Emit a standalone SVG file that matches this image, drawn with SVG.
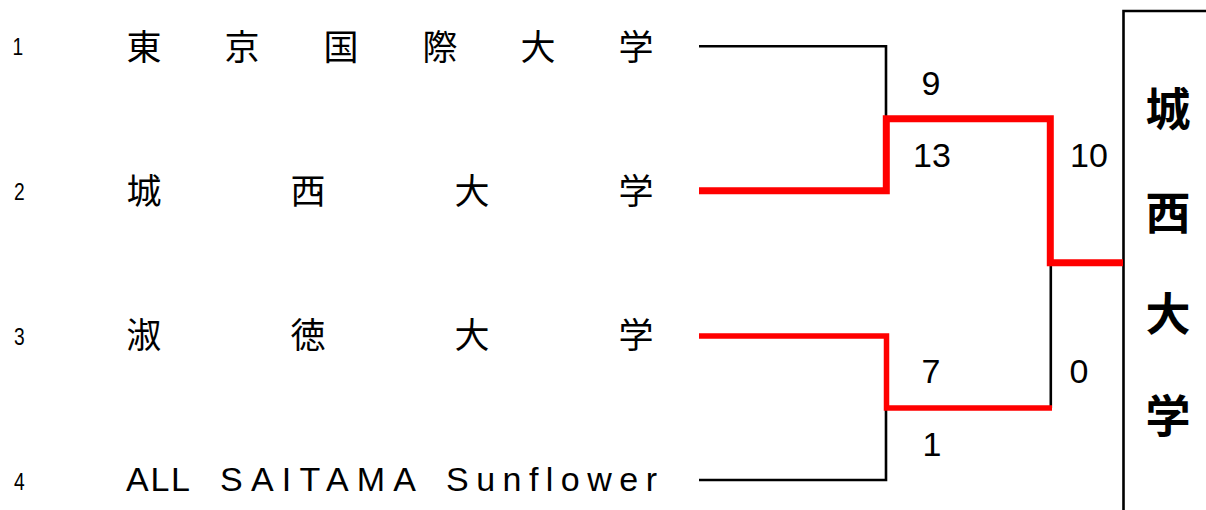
<svg xmlns="http://www.w3.org/2000/svg" width="1206" height="510" viewBox="0 0 1206 510">
<style>
.num{font-family:"Liberation Sans",Arial,sans-serif;font-size:24px;fill:#000}
.team{font-family:"Noto Sans CJK JP","Noto Sans CJK SC",sans-serif;font-size:35px;fill:#000}
.latin{font-family:"Liberation Sans",Arial,sans-serif;font-size:34px;fill:#000}
.score{font-family:"Liberation Sans",Arial,sans-serif;font-size:34px;fill:#000;text-anchor:middle}
.champ{font-family:"Noto Sans CJK JP","Noto Sans CJK SC",sans-serif;font-size:45px;font-weight:700;fill:#000;text-anchor:middle}
.blk{fill:none;stroke:#000;stroke-width:2.6}
.win{fill:none;stroke:#ff0000;stroke-width:7;stroke-linejoin:miter}
.win2{fill:none;stroke:#ff0000;stroke-width:5.5;stroke-linejoin:miter}
</style>
<rect width="1206" height="510" fill="#fff"/>
<g id="connectors">
<path class="blk" d="M699,46.3 H886 V118"/>
<path class="blk" d="M886,408 V480 H699"/>
<path class="blk" d="M1050.8,262 V408"/>
<path class="blk" d="M1206,11 H1123.5 V510" stroke-width="3"/>
<path class="win2" d="M699,336 H886.5 V408 H1052"/>
<path class="win" d="M699,190.8 H886.3 V118.8 H1050.3 V262.8 H1123"/>
</g>
<g id="team1">
<text class="num" transform="translate(12.5,55) scale(0.8,1)">1</text>
<text class="team" y="59.8" text-anchor="middle" x="144 242 341 440 538 636">東京国際大学</text>
</g>
<g id="team2">
<text class="num" transform="translate(14,200) scale(0.8,1)">2</text>
<text class="team" y="203.8" text-anchor="middle" x="144 308 472 636">城西大学</text>
</g>
<g id="team3">
<text class="num" transform="translate(14,345) scale(0.8,1)">3</text>
<text class="team" y="347.8" text-anchor="middle" x="144 308 472 636">淑徳大学</text>
</g>
<g id="team4">
<text class="num" transform="translate(14,490) scale(0.8,1)">4</text>
<text class="latin" y="491"><tspan x="126" textLength="64" lengthAdjust="spacing">ALL</tspan><tspan x="220" textLength="196" lengthAdjust="spacing">SAITAMA</tspan><tspan x="446" textLength="211" lengthAdjust="spacing">Sunflower</tspan></text>
</g>
<g id="scores">
<text class="score" x="931" y="95">9</text>
<text class="score" x="932" y="166.7">13</text>
<text class="score" x="1089" y="166.7">10</text>
<text class="score" x="931" y="383.3">7</text>
<text class="score" x="1079" y="383.3">0</text>
<text class="score" x="932" y="456">1</text>
</g>
<g id="champion">
<text class="champ" x="1168" y="126">城</text>
<text class="champ" x="1168" y="230">西</text>
<text class="champ" x="1168" y="330.5">大</text>
<text class="champ" x="1168" y="432.5">学</text>
</g>
</svg>
